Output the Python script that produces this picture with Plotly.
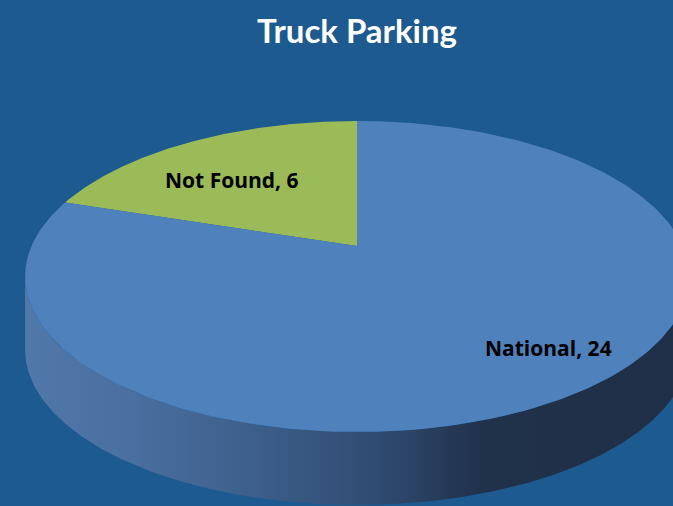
import numpy as np
import plotly.graph_objects as go

# ---- data ----
categories = ["Not Found", "National"]
values = [6, 24]
slice_colors = ["#9BBB59", "#4F81BD"]
title_text = "Truck Parking"

# ---- 3D pie projection parameters (pixel space) ----
CX, CY = 357.0, 246.0     # projected pie centre
A, B, P = 325.5, 101.3, 0.196
H0 = 73.0                  # wall thickness

def proj(u, w):
    d = 1 + P * w
    return CX + A * u / d, (CY - B * w) / d

fig = go.Figure()

# front wall
thL = np.degrees(np.arccos(-P))
thR = 360 - thL
th = np.radians(np.linspace(thL, thR, 300))
u, w = -np.sin(th), np.cos(th)
xt, yt = proj(u, w)
yb = yt + H0
fig.add_trace(go.Scatter(
    x=np.concatenate([xt, xt[::-1]]), y=np.concatenate([yt, yb[::-1]]),
    mode="lines", line=dict(width=0), fill="toself",
    fillgradient=dict(type="horizontal",
                      colorscale=[[0, "#5078A8"], [0.16, "#4A6FA0"], [0.35, "#3C5E8A"],
                                  [0.54, "#2F4A70"], [0.69, "#20314A"], [1, "#1F2F47"]]),
    hoverinfo="skip", showlegend=False))

# top face slices
total = sum(values)
start = 0.0
label_pos = {"Not Found": (232, 180), "National": (548, 348)}
for cat, val, col in zip(categories, values, slice_colors):
    end = start + 360.0 * val / total
    a = np.radians(np.linspace(start, end, 300))
    xs, ys = proj(-np.sin(a), np.cos(a))
    x0, y0 = proj(0.0, 0.0)
    fig.add_trace(go.Scatter(
        x=np.concatenate([[x0], xs, [x0]]), y=np.concatenate([[y0], ys, [y0]]),
        mode="lines", line=dict(width=0), fill="toself", fillcolor=col,
        name=cat, hoverinfo="name", showlegend=False))
    lx, ly = label_pos[cat]
    fig.add_annotation(x=lx, y=ly, text=f"<b>{cat}, {val}</b>", showarrow=False,
                       font=dict(family="Open Sans", size=21, color="black"))
    start = end

fig.add_annotation(x=357, y=30, text=f"<b>{title_text}</b>", showarrow=False,
                   font=dict(family="Lato", size=33, color="white"))

fig.update_layout(
    width=673, height=506, margin=dict(l=0, r=0, t=0, b=0),
    paper_bgcolor="#1C5A8F", plot_bgcolor="#1C5A8F",
    xaxis=dict(range=[0, 673], visible=False, fixedrange=True),
    yaxis=dict(range=[506, 0], visible=False, fixedrange=True),
    showlegend=False,
)
fig.write_html("out.html", config={"displayModeBar": False},
               post_script="document.body.style.margin='0';"
                           "document.body.style.background='#1C5A8F';")
